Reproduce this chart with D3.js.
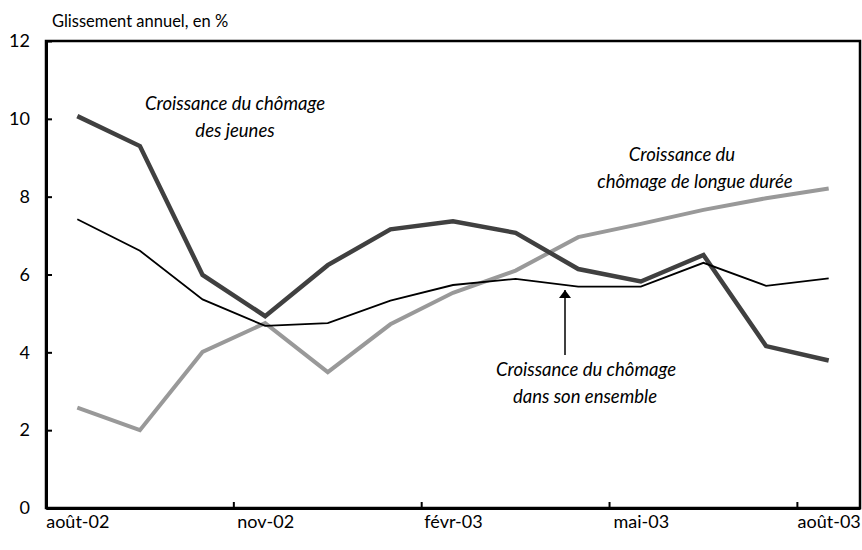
<!DOCTYPE html>
<html>
<head>
<meta charset="utf-8">
<script src="https://cdn.jsdelivr.net/npm/d3@7"></script>
<style>
  body { margin: 0; background: #fff; }
  svg { display: block; font-family: Lato, "Open Sans", sans-serif; }
  .axis text { font-size: 18px; fill: #000; font-family: Lato, sans-serif; }
  .note { font-size: 18.5px; font-style: italic; fill: #000; }
</style>
</head>
<body>
<svg class="chart"></svg>
<script>
// months on the x axis
var months = ["août-02", "sept-02", "oct-02", "nov-02", "déc-02", "janv-03", "févr-03",
              "mars-03", "avr-03", "mai-03", "juin-03", "juil-03", "août-03"];
var shownMonths = ["août-02", "nov-02", "févr-03", "mai-03", "août-03"];
var yTicks = [0, 2, 4, 6, 8, 10, 12];

// glissement annuel, en %
var jeunes   = [10.07, 9.30, 5.99, 4.93, 6.24, 7.16, 7.37, 7.07, 6.14, 5.82, 6.50, 4.16, 3.79];
var ensemble = [7.42, 6.61, 5.36, 4.68, 4.75, 5.33, 5.73, 5.89, 5.69, 5.69, 6.30, 5.71, 5.90];
var longue   = [2.58, 2.00, 4.01, 4.75, 3.49, 4.72, 5.53, 6.10, 6.96, 7.30, 7.66, 7.96, 8.21];

(function () {
  var width = 862,
      height = 550;

  var plotLeft = 46, plotRight = 860, plotTop = 41, plotBottom = 508;

  var svg = d3.select(".chart")
      .attr("width", width)
      .attr("height", height);

  var x = d3.scalePoint()
      .domain(months)
      .range([plotLeft, plotRight])
      .padding(0.5);

  var y = d3.scaleLinear()
      .domain([0, 12])
      .range([plotBottom, plotTop]);

  var line = d3.line()
      .x(function(d, i) { return x(months[i]); })
      .y(function(d) { return y(d); });

  // frame
  svg.append("rect")
      .attr("x", plotLeft)
      .attr("y", plotTop)
      .attr("width", plotRight - plotLeft)
      .attr("height", plotBottom - plotTop)
      .attr("fill", "none")
      .attr("stroke", "#000")
      .attr("stroke-width", 2.5);

  // y axis
  var yAxis = svg.append("g")
      .attr("class", "axis")
      .attr("transform", "translate(" + plotLeft + ",0)")
      .call(d3.axisLeft(y).tickValues(yTicks).tickSizeInner(-6).tickSizeOuter(0).tickPadding(16));
  yAxis.select(".domain").attr("stroke", "#000").attr("stroke-width", 3);
  yAxis.selectAll(".tick line").attr("stroke", "#000").attr("stroke-width", 2);

  // x axis: labels every 3 months, tick marks between categories
  var xAxis = svg.append("g")
      .attr("class", "axis")
      .attr("transform", "translate(0," + plotBottom + ")")
      .call(d3.axisBottom(x).tickValues(shownMonths).tickSize(0).tickPadding(7));
  xAxis.select(".domain").attr("stroke", "#000").attr("stroke-width", 3);

  var step = x.step();
  svg.append("g")
      .selectAll("line")
      .data(months.filter(function(d, i) { return i % 3 === 2 && i < months.length - 1; }))
      .enter().append("line")
      .attr("x1", function(d) { return x(d) + step / 2; })
      .attr("x2", function(d) { return x(d) + step / 2; })
      .attr("y1", plotBottom)
      .attr("y2", plotBottom - 6)
      .attr("stroke", "#000")
      .attr("stroke-width", 2);

  // series
  svg.append("path")
      .datum(longue)
      .attr("d", line)
      .attr("fill", "none")
      .attr("stroke", "#999999")
      .attr("stroke-width", 4);

  svg.append("path")
      .datum(jeunes)
      .attr("d", line)
      .attr("fill", "none")
      .attr("stroke", "#404040")
      .attr("stroke-width", 4.5);

  svg.append("path")
      .datum(ensemble)
      .attr("d", line)
      .attr("fill", "none")
      .attr("stroke", "#000")
      .attr("stroke-width", 1.8);

  // title
  svg.append("text")
      .attr("x", 52)
      .attr("y", 27)
      .style("font-size", "16.5px")
      .text("Glissement annuel, en %");

  // annotations
  function note(lines, xs, cy) {
    var t = svg.append("text")
        .attr("class", "note")
        .attr("text-anchor", "middle");
    lines.forEach(function(s, i) {
      t.append("tspan").attr("x", xs[i]).attr("y", cy + i * 27).text(s);
    });
  }
  note(["Croissance du chômage", "des jeunes"], [235, 235], 110);
  note(["Croissance du", "chômage de longue durée"], [682, 695], 161);
  note(["Croissance du chômage", "dans son ensemble"], [586, 585], 376);

  // arrow to the overall series
  svg.append("defs").append("marker")
      .attr("id", "head")
      .attr("viewBox", "0 0 10 10")
      .attr("refX", 10)
      .attr("refY", 5)
      .attr("markerWidth", 8)
      .attr("markerHeight", 12)
      .attr("markerUnits", "userSpaceOnUse")
      .attr("orient", "auto")
      .attr("preserveAspectRatio", "none")
    .append("path")
      .attr("d", "M0,0L10,5L0,10Z")
      .attr("fill", "#000");

  svg.append("line")
      .attr("x1", 565).attr("y1", 355)
      .attr("x2", 565).attr("y2", 290)
      .attr("stroke", "#000")
      .attr("stroke-width", 1.5)
      .attr("marker-end", "url(#head)");
})();
</script>
</body>
</html>
